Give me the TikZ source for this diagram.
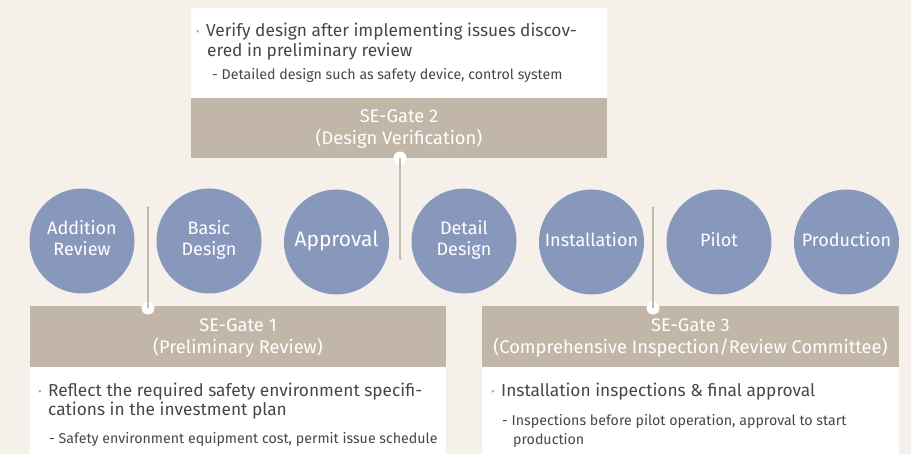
\documentclass[tikz,border=0pt]{standalone}
\usepackage{fontspec}
\setmainfont{Fira Sans}
\definecolor{bg}{HTML}{F6F0EA}
\definecolor{circ}{HTML}{8898BC}
\definecolor{tanc}{HTML}{C2B6A9}
\definecolor{lin}{HTML}{C4B9AD}
\definecolor{txt}{HTML}{474747}
\definecolor{bul}{HTML}{B5A696}
\newcommand{\bulletmark}{\makebox[10pt][l]{\color{bul}\fontsize{11}{11}\selectfont\raisebox{1.5pt}{•}}}
\begin{document}
\begin{tikzpicture}[x=1pt,y=-1pt,
 stage/.style={circle,fill=circ,minimum size=105pt,inner sep=0pt,text=white,align=center,font=\fontsize{18}{20.5}\selectfont},
 panel/.style={rectangle,fill=white,draw=none,inner sep=0pt},
 gatebar/.style={rectangle,fill=tanc,draw=none,inner sep=0pt},
 gatetitle/.style={inner sep=0pt,text=white,align=center,font=\fontsize{18.3}{18}\selectfont},
 bodyline/.style={anchor=base west,inner sep=0pt,text=txt,font=\fontsize{17.3}{20}\selectfont},
 subline/.style={anchor=base west,inner sep=0pt,text=txt,font=\fontsize{14.2}{18}\selectfont},
 conn/.style={draw=lin,line width=1.2pt},
 joint/.style={circle,fill=white,minimum size=13pt,inner sep=0pt},
 tipdot/.style={circle,fill=lin,minimum size=3.5pt,inner sep=0pt}]
\fill[bg] (0,0) rectangle (911,454);
\useasboundingbox (0,0) rectangle (911,454);

% panels
\node[panel,minimum width=416pt,minimum height=90pt] (p2) at (399,53) {};
\node[gatebar,minimum width=416pt,minimum height=60pt] (g2) at (399,128) {};
\node[gatetitle] (g2t) at (399,129.7) {SE-Gate 2\strut\\(Design Verification)\strut};
\node[panel,minimum width=416pt,minimum height=88pt] (p1) at (238,411) {};
\node[gatebar,minimum width=416pt,minimum height=61pt] (g1) at (238,337) {};
\node[gatetitle] (g1t) at (238,338.7) {SE-Gate 1\strut\\(Preliminary Review)\strut};
\node[panel,minimum width=417pt,minimum height=88pt] (p3) at (690.5,411) {};
\node[gatebar,minimum width=417pt,minimum height=61pt] (g3) at (690.5,337) {};
\node[gatetitle] (g3t) at (690.5,338.7) {SE-Gate 3\strut\\(Comprehensive Inspection/Review Committee)\strut};

% panel texts
\node[bodyline] (t2a) at (196,37) {\bulletmark Verify design after implementing issues discov-};
\node[bodyline] (t2b) at (207,57) {ered in preliminary review};
\node[subline] (t2c) at (212,80) {- Detailed design such as safety device, control system};

\node[bodyline] (t1a) at (38,397) {\bulletmark Reflect the required safety environment specifi-};
\node[bodyline] (t1b) at (48,416) {cations in the investment plan};
\node[subline] (t1c) at (49,443) {- Safety environment equipment cost, permit issue schedule};

\node[bodyline] (t3a) at (491,397) {\bulletmark Installation inspections \& final approval};
\node[subline] (t3b) at (502,425) {- Inspections before pilot operation, approval to start};
\node[subline] (t3c) at (513,444) {production};

% stages
\node[stage] (s1) at (82,241) {Addition\strut\\Review\strut};
\node[stage] (s2) at (209,241) {Basic\strut\\Design\strut};
\node[stage,font=\fontsize{21}{25}\selectfont] (s3) at (336.5,242) {Approval\strut};
\node[stage] (s4) at (464,241) {Detail\strut\\Design\strut};
\node[stage] (s5) at (591.5,242) {Installation\strut};
\node[stage] (s6) at (719,242) {Pilot\strut};
\node[stage] (s7) at (846.5,242) {Production\strut};

% connectors
\node[joint] (j1) at (148,308) {};
\node[joint] (j2) at (400,158) {};
\node[joint] (j3) at (653,308) {};
\node[tipdot] (e1) at (148,208) {};
\node[tipdot] (e2) at (400,258) {};
\node[tipdot] (e3) at (653,208) {};
\draw[conn] (j1.center) -- (e1.center);
\draw[conn] (j2.center) -- (e2.center);
\draw[conn] (j3.center) -- (e3.center);
\end{tikzpicture}
\end{document}
